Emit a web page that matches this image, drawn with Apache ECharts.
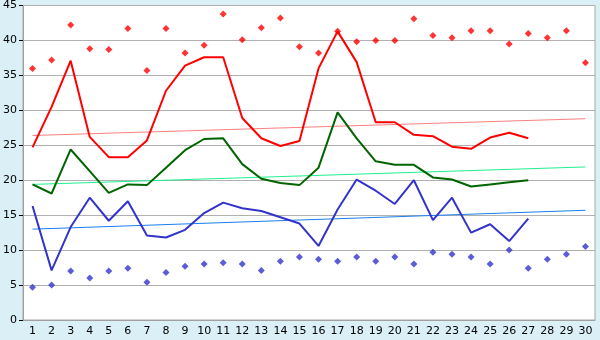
<!DOCTYPE html>
<html><head><meta charset="utf-8">
<script src="https://cdn.jsdelivr.net/npm/echarts@6/dist/echarts.min.js"></script>
<style>html,body{margin:0;padding:0;background:#daeff6;}#c{width:600px;height:340px;}</style>
</head><body><div id="c"></div>
<script>
var days = ['1','2','3','4','5','6','7','8','9','10','11','12','13','14','15','16','17','18','19','20','21','22','23','24','25','26','27','28','29','30'];
var maxLine = [24.7,30.5,37.1,26.2,23.3,23.3,25.7,32.8,36.4,37.6,37.6,28.9,26.0,24.9,25.6,36.0,41.3,36.9,28.3,28.3,26.5,26.3,24.8,24.5,26.1,26.8,26.0];
var meanLine = [19.4,18.1,24.4,21.3,18.2,19.4,19.3,21.8,24.3,25.9,26.0,22.3,20.2,19.6,19.3,21.8,29.7,26.0,22.7,22.2,22.2,20.4,20.1,19.1,19.4,19.7,20.0];
var minLine = [16.3,7.1,13.3,17.5,14.2,17.0,12.1,11.8,12.9,15.3,16.8,16.0,15.6,14.7,13.8,10.6,15.8,20.1,18.5,16.6,20.0,14.3,17.5,12.5,13.7,11.3,14.5];
var upperPts = [36.0,37.2,42.2,38.8,38.7,41.7,35.7,41.7,38.2,39.3,43.8,40.1,41.8,43.2,39.1,38.2,41.3,39.8,40.0,40.0,43.1,40.7,40.4,41.4,41.4,39.5,41.0,40.4,41.4,36.8];
var lowerPts = [4.7,5.0,7.0,6.0,7.0,7.4,5.4,6.8,7.7,8.0,8.2,8.0,7.1,8.4,9.0,8.7,8.4,9.0,8.4,9.0,8.0,9.7,9.4,9.0,8.0,10.0,7.4,8.7,9.4,10.5];
var maxTrend = [26.4,28.8];
var meanTrend = [19.4,21.9];
var minTrend = [13.0,15.7];
var yTicks = [0,5,10,15,20,25,30,35,40,45];

function trend(t){ return [[0,t[0]],[days.length-1,t[1]]]; }

var chart = echarts.init(document.getElementById('c'));
chart.setOption({
  backgroundColor:'#daeff6',
  animation:false,
  grid:{left:20,right:5,top:5,bottom:20,show:true,backgroundColor:'#ffffff',borderColor:'#a8a8a8',borderWidth:1},
  xAxis:{type:'category',data:days,boundaryGap:true,
    axisLine:{lineStyle:{color:'#a0a0a0',width:1}},
    axisTick:{alignWithLabel:true,length:4,lineStyle:{color:'#000'}},
    axisLabel:{color:'#000',fontFamily:'DejaVu Sans',fontSize:11,margin:6,interval:0},
    splitLine:{show:false}},
  yAxis:{type:'value',min:yTicks[0],max:yTicks[yTicks.length-1],interval:5,
    axisLine:{show:true,lineStyle:{color:'#a0a0a0'}},
    axisTick:{show:true,length:4,lineStyle:{color:'#000'}},
    axisLabel:{color:'#000',fontFamily:'DejaVu Sans',fontSize:11,margin:6},
    splitLine:{lineStyle:{color:'#b0b0b0',width:1}}},
  series:[
    {type:'line',data:trend(maxTrend),symbol:'none',lineStyle:{color:'#ff8080',width:1},z:2},
    {type:'line',data:trend(meanTrend),symbol:'none',lineStyle:{color:'#20f090',width:1},z:2},
    {type:'line',data:trend(minTrend),symbol:'none',lineStyle:{color:'#1a80f0',width:1},z:2},
    {type:'line',data:maxLine,symbol:'none',lineStyle:{color:'#ff0000',width:2},z:3},
    {type:'line',data:meanLine,symbol:'none',lineStyle:{color:'#006400',width:2},z:3},
    {type:'line',data:minLine,symbol:'none',lineStyle:{color:'#3333cc',width:2},z:3},
    {type:'scatter',data:upperPts,symbol:'diamond',symbolSize:7,itemStyle:{color:'#ff0000'},z:4},
    {type:'scatter',data:lowerPts,symbol:'diamond',symbolSize:7,itemStyle:{color:'#3333cc'},z:4}
  ]
});
</script></body></html>
